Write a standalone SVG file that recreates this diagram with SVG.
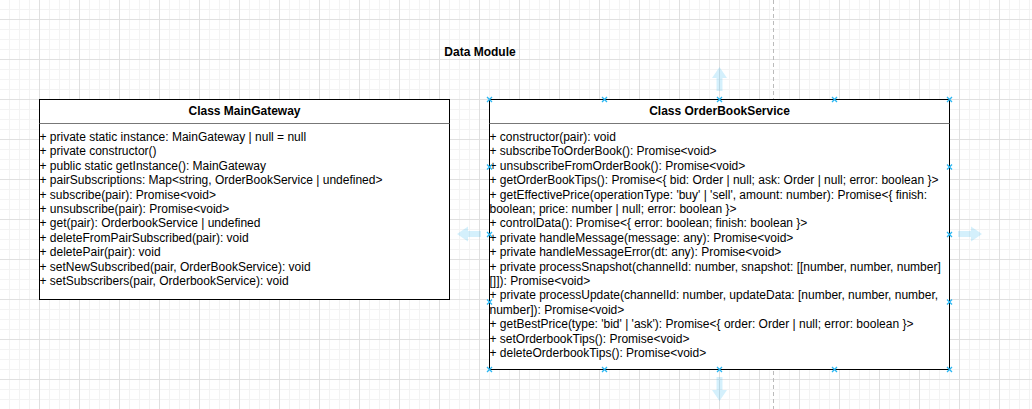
<svg xmlns="http://www.w3.org/2000/svg" width="1032" height="409" viewBox="0 0 1032 409">
  <style>
    .t { font-family: "Liberation Sans", Arial, Helvetica, sans-serif; font-size: 12px; fill: #000; }
    .b { font-weight: bold; text-anchor: middle; }
    .box { fill: #fff; stroke: #000; stroke-width: 1; }
    .sep { stroke: #777; stroke-width: 1; }
    .h { stroke: #29b6f2; stroke-width: 1.3; fill: none; }
    .ar { fill: #29b6f2; fill-opacity: 0.2; }
  </style>
  <defs>
    <pattern id="minor" patternUnits="userSpaceOnUse" x="9" y="9" width="10" height="10">
      <path d="M0.5 0 V10 M0 0.5 H10" stroke="#f3f3f3" stroke-width="1" fill="none"/>
    </pattern>
    <pattern id="major" patternUnits="userSpaceOnUse" x="39" y="19" width="40" height="40">
      <path d="M0.5 0 V40 M0 0.5 H40" stroke="#e0e0e0" stroke-width="1" fill="none"/>
    </pattern>
    <g id="hx">
      <path class="h" d="M-2.5 -2.5 L2.5 2.5 M-2.5 2.5 L2.5 -2.5"/>
    </g>
  </defs>

  <rect width="1032" height="409" fill="#fff"/>
  <rect width="1032" height="409" fill="url(#minor)"/>
  <rect width="1032" height="409" fill="url(#major)"/>
  <line x1="773.5" y1="0" x2="773.5" y2="409" stroke="#bbb" stroke-width="1" stroke-dasharray="4 3"/>

  <text id="title" class="t b" x="480" y="56">Data Module</text>

  <g id="connectors"/>

  <g id="MainGateway">
    <rect class="box" x="39.5" y="99.5" width="410" height="200"/>
    <line class="sep" x1="39.5" y1="123.5" x2="449.5" y2="123.5"/>
    <text class="t b" x="244.5" y="115">Class MainGateway</text>
    <text class="t" x="39.5" y="141">+ private static instance: MainGateway | null = null</text>
    <text class="t" x="39.5" y="155.4">+ private constructor()</text>
    <text class="t" x="39.5" y="169.8">+ public static getInstance(): MainGateway</text>
    <text class="t" x="39.5" y="184.2">+ pairSubscriptions: Map&lt;string, OrderBookService | undefined&gt;</text>
    <text class="t" x="39.5" y="198.6">+ subscribe(pair): Promise&lt;void&gt;</text>
    <text class="t" x="39.5" y="213">+ unsubscribe(pair): Promise&lt;void&gt;</text>
    <text class="t" x="39.5" y="227.4">+ get(pair): OrderbookService | undefined</text>
    <text class="t" x="39.5" y="241.8">+ deleteFromPairSubscribed(pair): void</text>
    <text class="t" x="39.5" y="256.2">+ deletePair(pair): void</text>
    <text class="t" x="39.5" y="270.6">+ setNewSubscribed(pair, OrderBookService): void</text>
    <text class="t" x="39.5" y="285">+ setSubscribers(pair, OrderbookService): void</text>
  </g>

  <g id="OrderBookService">
    <rect class="box" x="489.5" y="99.5" width="460" height="270"/>
    <line class="sep" x1="489.5" y1="123.5" x2="949.5" y2="123.5"/>
    <text class="t b" x="719.5" y="115">Class OrderBookService</text>
    <text class="t" x="489.5" y="141">+ constructor(pair): void</text>
    <text class="t" x="489.5" y="155.4">+ subscribeToOrderBook(): Promise&lt;void&gt;</text>
    <text class="t" x="489.5" y="169.8">+ unsubscribeFromOrderBook(): Promise&lt;void&gt;</text>
    <text class="t" x="489.5" y="184.2">+ getOrderBookTips(): Promise&lt;{ bid: Order | null; ask: Order | null; error: boolean }&gt;</text>
    <text class="t" x="489.5" y="198.6">+ getEffectivePrice(operationType: 'buy' | 'sell', amount: number): Promise&lt;{ finish:</text>
    <text class="t" x="489.5" y="213">boolean; price: number | null; error: boolean }&gt;</text>
    <text class="t" x="489.5" y="227.4">+ controlData(): Promise&lt;{ error: boolean; finish: boolean }&gt;</text>
    <text class="t" x="489.5" y="241.8">+ private handleMessage(message: any): Promise&lt;void&gt;</text>
    <text class="t" x="489.5" y="256.2">+ private handleMessageError(dt: any): Promise&lt;void&gt;</text>
    <text class="t" x="489.5" y="270.6">+ private processSnapshot(channelId: number, snapshot: [[number, number, number]</text>
    <text class="t" x="489.5" y="285">[]]): Promise&lt;void&gt;</text>
    <text class="t" x="489.5" y="299.4">+ private processUpdate(channelId: number, updateData: [number, number, number,</text>
    <text class="t" x="489.5" y="313.8">number]): Promise&lt;void&gt;</text>
    <text class="t" x="489.5" y="328.2">+ getBestPrice(type: 'bid' | 'ask'): Promise&lt;{ order: Order | null; error: boolean }&gt;</text>
    <text class="t" x="489.5" y="342.6">+ setOrderbookTips(): Promise&lt;void&gt;</text>
    <text class="t" x="489.5" y="357">+ deleteOrderbookTips(): Promise&lt;void&gt;</text>
  </g>

  <g id="selection">
    <use href="#hx" x="489.5" y="99.5"/>
    <use href="#hx" x="604.5" y="99.5"/>
    <use href="#hx" x="719.5" y="99.5"/>
    <use href="#hx" x="834.5" y="99.5"/>
    <use href="#hx" x="949.5" y="99.5"/>
    <use href="#hx" x="489.5" y="369.5"/>
    <use href="#hx" x="604.5" y="369.5"/>
    <use href="#hx" x="719.5" y="369.5"/>
    <use href="#hx" x="834.5" y="369.5"/>
    <use href="#hx" x="949.5" y="369.5"/>
    <use href="#hx" x="489.5" y="167"/>
    <use href="#hx" x="489.5" y="234.5"/>
    <use href="#hx" x="489.5" y="302"/>
    <use href="#hx" x="949.5" y="167"/>
    <use href="#hx" x="949.5" y="234.5"/>
    <use href="#hx" x="949.5" y="302"/>
    <polygon class="ar" points="719.5,67 727,78 722.5,78 722.5,91 716.5,91 716.5,78 712,78"/>
    <polygon class="ar" points="719.5,401 727,390 722.5,390 722.5,377 716.5,377 716.5,390 712,390"/>
    <polygon class="ar" points="457,234 468,226.5 468,231 481,231 481,237 468,237 468,241.5"/>
    <polygon class="ar" points="982,234 971,226.5 971,231 958,231 958,237 971,237 971,241.5"/>
  </g>
</svg>
